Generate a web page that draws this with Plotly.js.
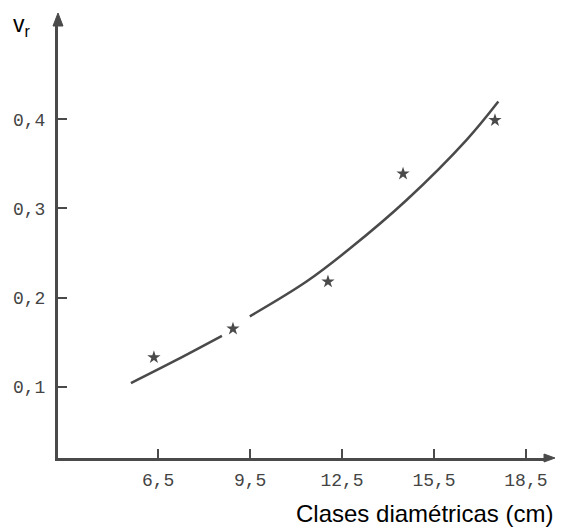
<!DOCTYPE html>
<html>
<head>
<meta charset="utf-8">
<script src="https://cdn.plot.ly/plotly-3.0.1.min.js"></script>
<style>html,body{margin:0;padding:0;background:#fff;}#chart{width:561px;height:527px;}</style>
</head>
<body>
<div id="chart"></div>
<script>
// Observed points (stars)
const pointX = [6.36, 8.94, 12.04, 14.49, 17.49];
const pointY = [0.133, 0.165, 0.218, 0.339, 0.399];
// Fitted curve as drawn (with a gap near 9 cm)
const curveX = [5.61, 7.1, 8.58, null, 9.49, 11.34, 12.755, 14.607, 16.565, 17.60];
const curveY = [0.104, 0.130, 0.157, null, 0.179, 0.218, 0.255, 0.3095, 0.377, 0.420];
// Tick values
const xTicks = [6.5, 9.5, 12.5, 15.5, 18.5];
const yTicks = [0.1, 0.2, 0.3, 0.4];

const ink = '#4a4a4a';
const traces = [
  {x: curveX, y: curveY, mode: 'lines', type: 'scatter', connectgaps: false,
   line: {color: ink, width: 2.5, shape: 'spline', smoothing: 1}, hoverinfo: 'skip'},
  {x: pointX, y: pointY, mode: 'markers', type: 'scatter',
   marker: {symbol: 'star', size: 10, color: ink}}
];
const layout = {
  width: 561, height: 527,
  margin: {l: 58, r: 17, t: 24, b: 69},
  paper_bgcolor: '#fff', plot_bgcolor: '#fff',
  showlegend: false,
  separators: ',.',
  font: {family: 'Liberation Mono, DejaVu Sans Mono, monospace', color: '#444', size: 18},
  xaxis: {range: [3.23, 19.09], showgrid: false, zeroline: false,
    showline: true, linecolor: ink, linewidth: 2.5,
    ticks: 'inside', ticklen: 9, tickwidth: 2, tickcolor: ink,
    tickvals: xTicks, tickformat: '.1f', ticklabelstandoff: 4},
  yaxis: {range: [0.02, 0.507], showgrid: false, zeroline: false,
    showline: true, linecolor: ink, linewidth: 3,
    ticks: 'inside', ticklen: 9, tickwidth: 2, tickcolor: ink,
    tickvals: yTicks, tickformat: '.1f', ticklabelstandoff: 6},
  shapes: [
    {type: 'path', xref: 'paper', yref: 'paper', xsizemode: 'pixel', ysizemode: 'pixel',
     xanchor: 0, yanchor: 1, path: 'M -5 -2 L 0 11 L 5 -2 Z',
     fillcolor: ink, line: {color: ink, width: 1}},
    {type: 'path', xref: 'paper', yref: 'paper', xsizemode: 'pixel', ysizemode: 'pixel',
     xanchor: 1, yanchor: 0, path: 'M 0 -4 L 11 0 L 0 4 Z',
     fillcolor: ink, line: {color: ink, width: 1}}
  ],
  annotations: [
    {xref: 'paper', yref: 'paper', x: -0.074, y: 1.035, xanchor: 'center', yanchor: 'top',
     text: 'v<sub>r</sub>', showarrow: false,
     font: {family: 'Liberation Sans, Arial, sans-serif', size: 23, color: '#000'}},
    {xref: 'paper', yref: 'paper', x: 1.022, y: -0.127, xanchor: 'right', yanchor: 'middle',
     text: 'Clases diamétricas (cm)', showarrow: false,
     font: {family: 'Liberation Sans, Arial, sans-serif', size: 24, color: '#000'}}
  ]
};
Plotly.newPlot('chart', traces, layout, {displayModeBar: false, staticPlot: true});
</script>
</body>
</html>
